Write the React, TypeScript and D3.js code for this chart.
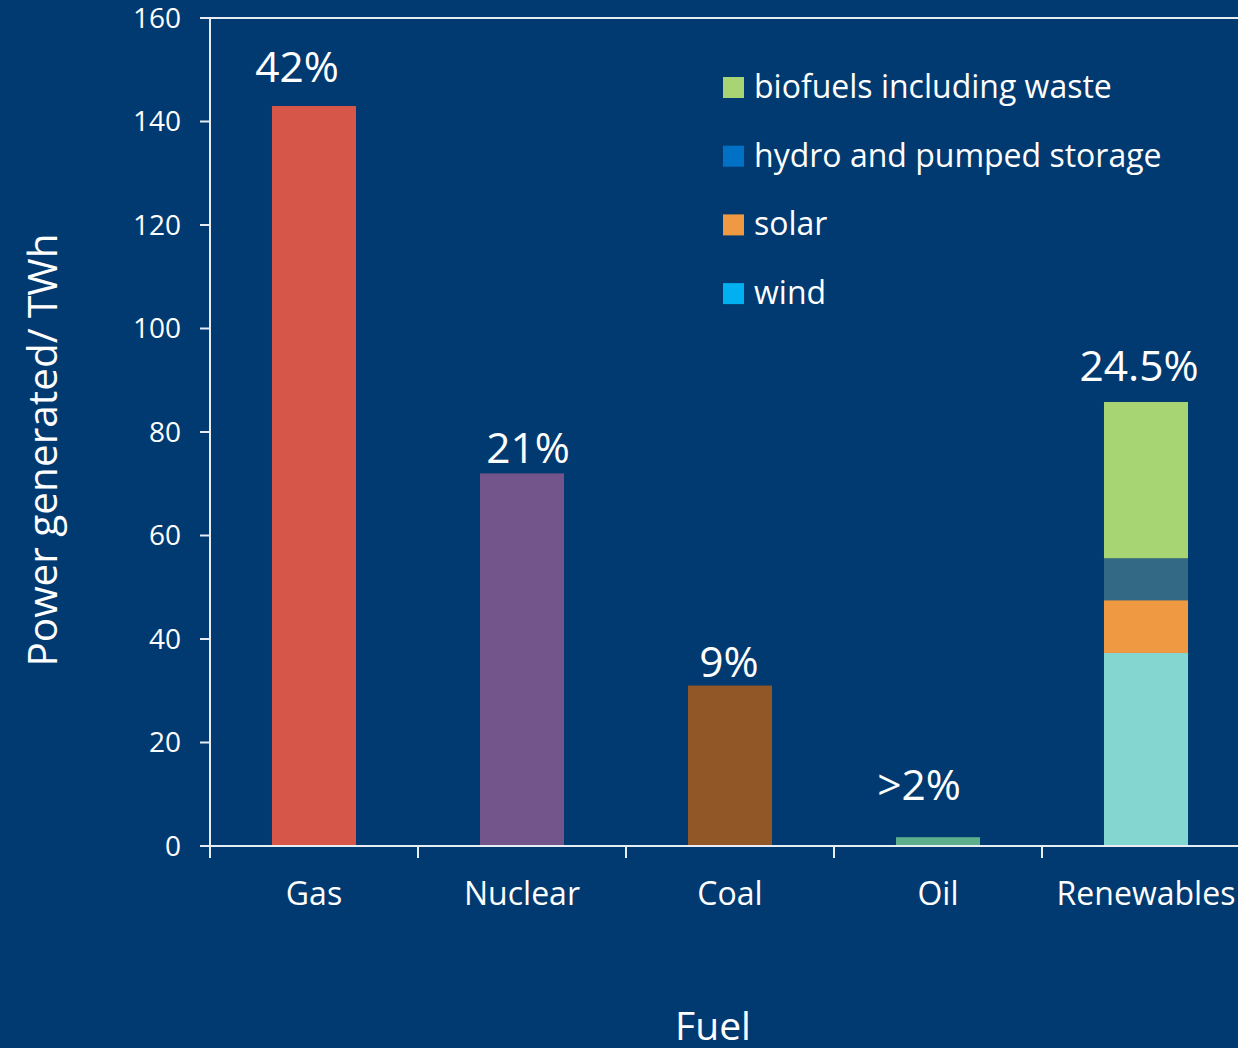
import React from "react";
import * as d3 from "d3";

const categories = ["Gas", "Nuclear", "Coal", "Oil", "Renewables"];
const singleValues = [143, 72, 31, 1.7, 0];
const singleColors = ["#D6564A", "#73558C", "#925726", "#5DAE8B", "none"];
const shareLabels = ["42%", "21%", "9%", ">2%", "24.5%"];

const renewableParts = ["wind", "solar", "hydro and pumped storage", "biofuels including waste"];
const renewableValues = [37.3, 10.2, 8.1, 30.2];
const renewableBarColors = ["#84D7D1", "#EF9A42", "#336985", "#A8D574"];

const legendLabels = ["biofuels including waste", "hydro and pumped storage", "solar", "wind"];
const legendColors = ["#A8D574", "#0071C5", "#EF9A42", "#00B0F0"];

const yTicks = [0, 20, 40, 60, 80, 100, 120, 140, 160];

// layout: manual nudges of the share labels (dx, lift above bar) in pixels
const labelDx = [-17, 6, -1, -19, -7];
const labelLift = [24, 10, 9, 37, 21];

const W = 1238;
const H = 1048;
const BG = "#013A70";
const FONT = "'Open Sans', sans-serif";
const LINE = "#E8EDF3";

export default function App() {
  const left = 210;
  const bandW = 208;
  const top = 18;
  const bottom = 846;

  const x = d3.scaleBand<string>().domain(categories).range([left, left + bandW * categories.length]).paddingInner(0).paddingOuter(0);
  const y = d3.scaleLinear().domain([0, 160]).range([bottom, top]);
  const barW = x.bandwidth() * 0.404;

  const stacked = d3.cumsum(renewableValues);
  const totals = categories.map((c, i) => (c === "Renewables" ? stacked[stacked.length - 1] : singleValues[i]));

  return (
    <svg width={W} height={H} style={{ position: "absolute", left: 0, top: 0, display: "block" }} fontFamily={FONT}>
      <rect x={0} y={0} width={W} height={H} fill={BG} />

      {/* bars */}
      {categories.map((c, i) => {
        if (c === "Renewables") return null;
        const cx = (x(c) as number) + x.bandwidth() / 2;
        return (
          <rect key={c} x={cx - barW / 2} y={y(singleValues[i])} width={barW} height={y(0) - y(singleValues[i])} fill={singleColors[i]} />
        );
      })}
      {renewableValues.map((v, j) => {
        const cx = (x("Renewables") as number) + x.bandwidth() / 2;
        const y1 = stacked[j];
        const y0 = y1 - v;
        return <rect key={renewableParts[j]} x={cx - barW / 2} y={y(y1)} width={barW} height={y(y0) - y(y1)} fill={renewableBarColors[j]} />;
      })}

      {/* share labels */}
      {categories.map((c, i) => {
        const cx = (x(c) as number) + x.bandwidth() / 2;
        const t = totals[i];
        return (
          <text key={c + "lbl"} x={cx + labelDx[i]} y={y(t) - labelLift[i]} textAnchor="middle" fill="#fff" fontSize={42.5} fontWeight={500}>
            {shareLabels[i]}
          </text>
        );
      })}

      {/* axes */}
      <line x1={200} x2={W} y1={y(160)} y2={y(160)} stroke={LINE} strokeWidth={2} />
      <line x1={left} x2={left} y1={y(160)} y2={bottom} stroke={LINE} strokeWidth={2} />
      <line x1={200} x2={W} y1={bottom} y2={bottom} stroke={LINE} strokeWidth={2} />
      {yTicks.map((t) => (
        <g key={t}>
          <line x1={200} x2={left} y1={y(t)} y2={y(t)} stroke={LINE} strokeWidth={2} />
          <text x={181} y={y(t)} dy="0.35em" textAnchor="end" fill="#fff" fontSize={28}>
            {t}
          </text>
        </g>
      ))}
      {categories.map((c) => (
        <line key={c + "tick"} x1={x(c) as number} x2={x(c) as number} y1={bottom} y2={bottom + 12} stroke={LINE} strokeWidth={2} />
      ))}
      {categories.map((c) => (
        <text key={c + "cat"} x={(x(c) as number) + x.bandwidth() / 2} y={905} textAnchor="middle" fill="#fff" fontSize={32}>
          {c}
        </text>
      ))}

      {/* axis titles */}
      <text transform={`translate(57, 450) rotate(-90)`} textAnchor="middle" fill="#fff" fontSize={40.5}>
        Power generated/ TWh
      </text>
      <text x={713} y={1040} textAnchor="middle" fill="#fff" fontSize={39}>
        Fuel
      </text>

      {/* legend */}
      {legendLabels.map((l, i) => (
        <g key={l} transform={`translate(723, ${77 + i * 68.7})`}>
          <rect x={0} y={0} width={21} height={21} fill={legendColors[i]} />
          <text x={31} y={21} fill="#fff" fontSize={32}>
            {l}
          </text>
        </g>
      ))}
    </svg>
  );
}
